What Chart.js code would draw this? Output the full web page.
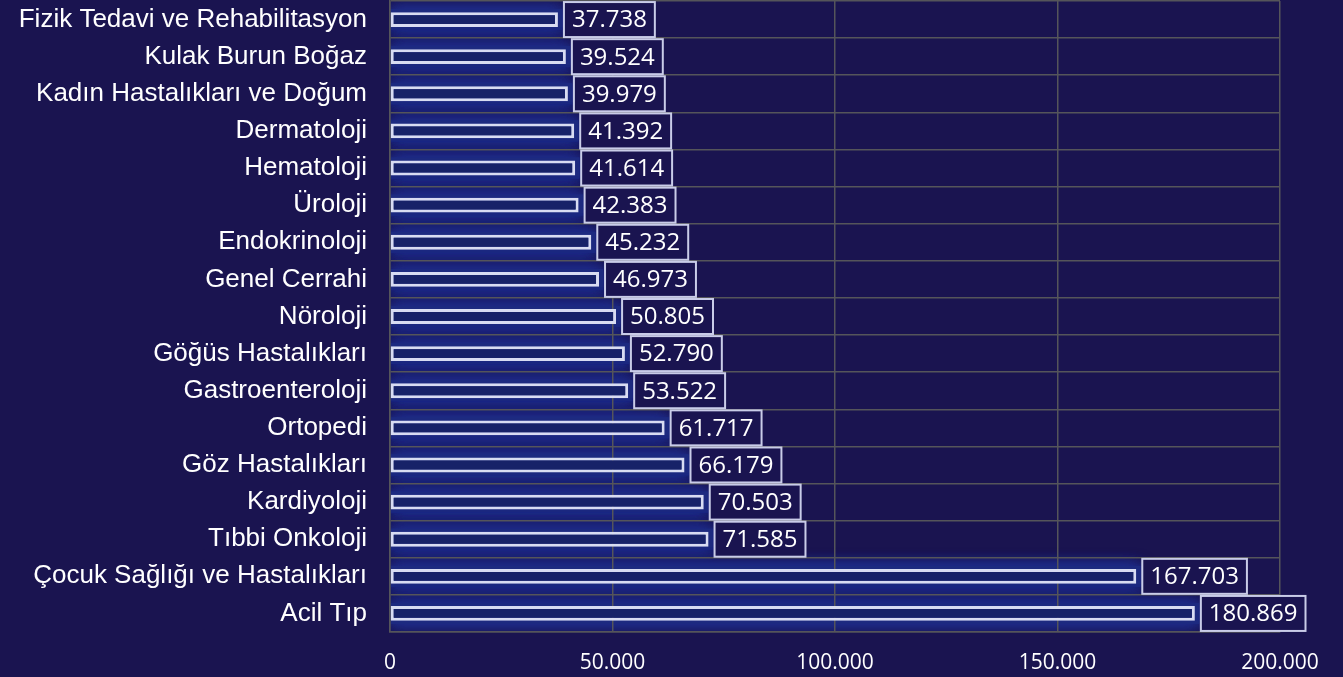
<!DOCTYPE html>
<html>
<head>
<meta charset="utf-8">
<script src="https://cdn.jsdelivr.net/npm/chart.js@4/dist/chart.umd.min.js"></script>
<style>
  html, body { margin: 0; padding: 0; background: #1a1450; }
  #wrap { width: 1343px; height: 677px; }
</style>
</head>
<body>
<div id="wrap"><canvas id="chart" width="1343" height="677"></canvas></div>
<script>
const categories = [
  'Fizik Tedavi ve Rehabilitasyon', 'Kulak Burun Boğaz', 'Kadın Hastalıkları ve Doğum',
  'Dermatoloji', 'Hematoloji', 'Üroloji', 'Endokrinoloji', 'Genel Cerrahi', 'Nöroloji',
  'Göğüs Hastalıkları', 'Gastroenteroloji', 'Ortopedi', 'Göz Hastalıkları', 'Kardiyoloji',
  'Tıbbi Onkoloji', 'Çocuk Sağlığı ve Hastalıkları', 'Acil Tıp'
];
const patients = [
  37738, 39524, 39979, 41392, 41614, 42383, 45232, 46973, 50805,
  52790, 53522, 61717, 66179, 70503, 71585, 167703, 180869
];
const xMax = 200000;
const xStep = 50000;

// Turkish thousands separator
const fmt = v => String(v).replace(/\B(?=(\d{3})+(?!\d))/g, '.');

// soft blue glow band behind every bar, under the grid, clipped to the plot area
const glow = {
  id: 'glow',
  beforeDraw(chart) {
    const ctx = chart.ctx;
    const a = chart.chartArea;
    const meta = chart.getDatasetMeta(0);
    ctx.save();
    ctx.beginPath();
    ctx.rect(a.left, a.top, a.right - a.left, a.bottom - a.top);
    ctx.clip();
    ctx.fillStyle = '#1d2a80';
    ctx.shadowColor = '#1f2d8c';
    ctx.shadowBlur = 16;
    meta.data.forEach(bar => {
      const h = bar.height + 6;
      for (let k = 0; k < 3; k++) {
        ctx.fillRect(bar.base, bar.y - h / 2, bar.x - bar.base + 4, h);
      }
    });
    ctx.restore();
  }
};

// boxed value labels right of each bar
const valueBoxes = {
  id: 'valueBoxes',
  afterDatasetsDraw(chart) {
    const ctx = chart.ctx;
    const meta = chart.getDatasetMeta(0);
    ctx.save();
    ctx.font = '24px "Open Sans", sans-serif';
    ctx.textBaseline = 'middle';
    ctx.textAlign = 'left';
    meta.data.forEach((bar, i) => {
      const txt = fmt(patients[i]);
      const w = ctx.measureText(txt).width + 16;
      const h = 35;
      const x = bar.x + 6;
      const y = bar.y - h / 2;
      ctx.fillStyle = '#1a1450';
      ctx.fillRect(x, y, w, h);
      ctx.strokeStyle = '#c9cce8';
      ctx.lineWidth = 2;
      ctx.strokeRect(x, y, w, h);
      ctx.fillStyle = '#ffffff';
      ctx.fillText(txt, x + 8, bar.y + 1);
    });
    ctx.restore();
  }
};

new Chart(document.getElementById('chart'), {
  type: 'bar',
  data: {
    labels: categories,
    datasets: [{
      data: patients,
      backgroundColor: '#172268',
      borderColor: '#d8dcf2',
      borderWidth: 3,
      borderSkipped: false,
      barPercentage: 0.4,
      categoryPercentage: 1
    }]
  },
  options: {
    indexAxis: 'y',
    responsive: false,
    animation: false,
    layout: { padding: { top: 1, right: 63, left: 0, bottom: 0 } },
    plugins: { legend: { display: false }, tooltip: { enabled: false } },
    scales: {
      x: {
        min: 0,
        max: xMax,
        ticks: {
          stepSize: xStep,
          color: '#ffffff',
          font: { family: 'Open Sans', size: 21 },
          padding: 18,
          callback: v => fmt(v)
        },
        grid: { color: '#55555a', lineWidth: 1.5, drawTicks: false },
        border: { color: '#55555a', width: 1.5 },
        afterFit: s => { s.height = 45; }
      },
      y: {
        ticks: {
          color: '#ffffff',
          font: { family: 'Liberation Sans', size: 26 },
          padding: 23
        },
        grid: { color: '#55555a', lineWidth: 1.5, offset: true, drawTicks: false },
        border: { color: '#55555a', width: 1.5 },
        afterFit: s => { s.width = 390; s.paddingTop = 0; s.paddingBottom = 0; }
      }
    }
  },
  plugins: [glow, valueBoxes]
});
</script>
</body>
</html>
